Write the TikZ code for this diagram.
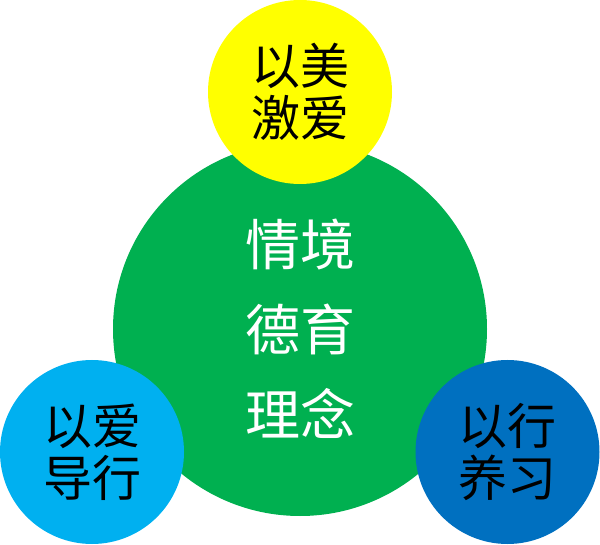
\documentclass[tikz,border=0pt]{standalone}
\usepackage{fontspec}
\newfontfamily\cjk{Noto Sans CJK SC}
\definecolor{cgreen}{HTML}{00B050}
\definecolor{cyellow}{HTML}{FFFF00}
\definecolor{clblue}{HTML}{00B0F0}
\definecolor{cdblue}{HTML}{0070C0}
\tikzset{
  ball/.style={circle, inner sep=0pt, align=center},
  smallball/.style={ball, minimum size=184pt, text=black, font=\cjk\fontsize{49}{52}\selectfont},
  bigball/.style={ball, minimum size=374pt, fill=cgreen, text=white, font=\cjk\fontsize{55}{85}\selectfont}
}
\begin{document}
\begin{tikzpicture}[x=1pt,y=-1pt]
\useasboundingbox (0,0) rectangle (600,545);
\node[bigball] (center) at (300,329) {情境\\德育\\理念};
\node[smallball, fill=cyellow] (top) at (300,92) {以美\\激爱};
\node[smallball, fill=clblue] (left) at (92,452) {以爱\\导行};
\node[smallball, fill=cdblue] (right) at (507.5,452) {以行\\养习};
\end{tikzpicture}
\end{document}
